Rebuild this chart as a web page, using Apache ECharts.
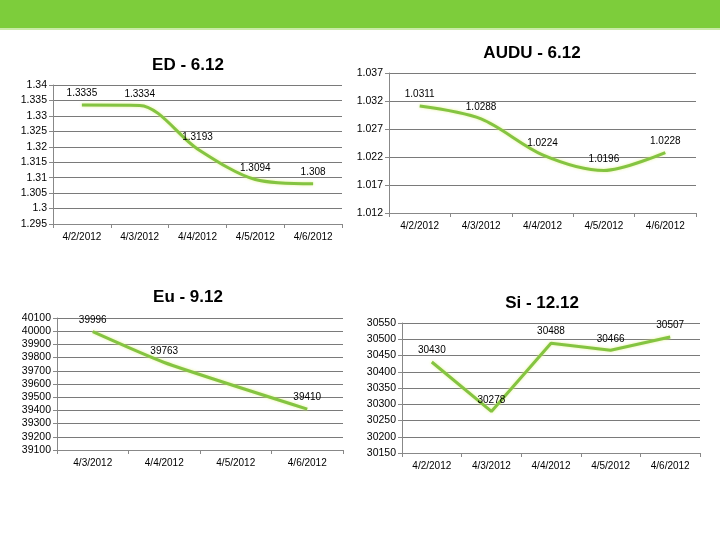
<!DOCTYPE html>
<html><head><meta charset="utf-8">
<script src="https://cdn.jsdelivr.net/npm/echarts@6/dist/echarts.min.js"></script>
<style>html,body{margin:0;padding:0;background:#fff}#c{width:720px;height:540px}</style>
</head><body><div id="c"></div>
<script>
const datesA = ['4/2/2012','4/3/2012','4/4/2012','4/5/2012','4/6/2012'];
const datesEu = ['4/3/2012','4/4/2012','4/5/2012','4/6/2012'];
const edValues = [1.3335, 1.3334, 1.3193, 1.3094, 1.308];
const auduValues = [1.0311, 1.0288, 1.0224, 1.0196, 1.0228];
const euValues = [39996, 39763, 39410];
const euCats = ['4/3/2012','4/4/2012','4/6/2012'];
const siValues = [30430, 30278, 30488, 30466, 30507];
const titles = ['ED - 6.12','AUDU - 6.12','Eu - 9.12','Si - 12.12'];

const FONT = 'Liberation Sans, Arial, sans-serif';
const LINE = '#84c441';
const grids = [
  {left:53, top:85, width:289, height:139},
  {left:389, top:73, width:307, height:140},
  {left:57, top:318, width:286, height:132},
  {left:402, top:323, width:298, height:130}
];
const yCfg = [
  {min:1.295, max:1.34, interval:0.005},
  {min:1.012, max:1.037, interval:0.005},
  {min:39100, max:40100, interval:100},
  {min:30150, max:30550, interval:50}
];
const titlePos = [[183,52],[527,40],[183,284],[537,290]];
const euData = euCats.map((c,i) => [c, euValues[i]]);
const seriesData = [edValues, auduValues, euData, siValues];
const cats = [datesA, datesA, datesEu, datesA];
const smoothing = [0.3, 0.3, 0.2, false];

const chart = echarts.init(document.getElementById('c'), null, {renderer:'canvas'});
const option = {
  animation:false,
  backgroundColor:'#fff',
  graphic:[{type:'rect', shape:{x:0,y:0,width:720,height:28}, style:{fill:'#7dcd3b'}},
           {type:'rect', shape:{x:0,y:28,width:720,height:2}, style:{fill:'#c9eaa8'}}],
  title: titles.map((t,i)=>({text:t, left:titlePos[i][0], top:titlePos[i][1], textAlign:'center',
    textStyle:{fontFamily:FONT, fontSize:17, fontWeight:'bold', color:'#000'}})),
  grid: grids,
  xAxis: grids.map((g,i)=>({type:'category', gridIndex:i, data:cats[i], boundaryGap:true,
    axisLine:{lineStyle:{color:'#888', width:1}},
    axisTick:{show:true, alignWithLabel:false, length:4, lineStyle:{color:'#888'}},
    axisLabel:{fontFamily:FONT, fontSize:10, color:'#000', margin:8, interval:0}})),
  yAxis: grids.map((g,i)=>({type:'value', gridIndex:i, min:yCfg[i].min, max:yCfg[i].max, interval:yCfg[i].interval,
    axisLine:{show:true, lineStyle:{color:'#888'}},
    axisTick:{show:true, length:4, lineStyle:{color:'#888'}},
    splitLine:{show:true, lineStyle:{color:'#7a7a7a', width:1}},
    axisLabel:{fontFamily:FONT, fontSize:10.5, color:'#000', margin:6,
      formatter: v => String(+v.toFixed(4))}})),
  series: seriesData.map((d,i)=>({type:'line', xAxisIndex:i, yAxisIndex:i, data:d,
    smooth: smoothing[i],
    symbol:'circle', symbolSize:1, itemStyle:{color:'rgba(0,0,0,0)'},
    lineStyle:{color:LINE, width:3, shadowColor:'rgba(225,240,140,0.9)', shadowBlur:3},
    label:{show:true, position:'top', distance:6, fontFamily:FONT, fontSize:10, color:'#000',
      formatter: p => String(Array.isArray(p.value) ? p.value[1] : p.value)}}))
};
chart.setOption(option);
</script></body></html>
